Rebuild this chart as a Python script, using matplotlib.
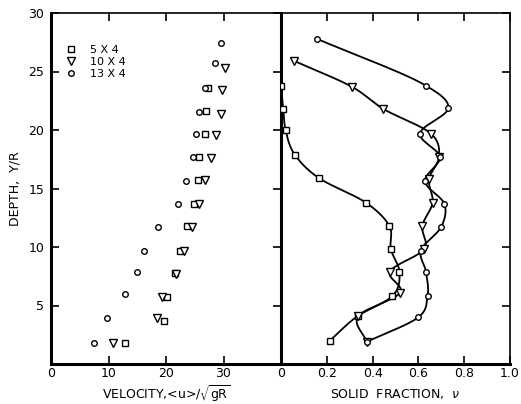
import numpy as np
import matplotlib
matplotlib.use("Agg")
import matplotlib.pyplot as plt

# ---------------- data ----------------
series_labels = ["5 X 4", "10 X 4", "13 X 4"]

# Left panel: velocity <u>/sqrt(gR) vs depth Y/R
vel_sq_depth = [23.6, 21.6, 19.7, 17.7, 15.7, 13.7, 11.8, 9.7, 7.8, 5.7, 3.7, 1.8]
vel_sq = [27.3, 26.9, 26.7, 25.7, 25.6, 24.9, 23.7, 22.4, 21.6, 20.1, 19.7, 12.9]

vel_tr_depth = [25.3, 23.4, 21.4, 19.6, 17.6, 15.7, 13.7, 11.7, 9.7, 7.7, 5.7, 3.9, 1.8]
vel_tr = [30.2, 29.7, 29.5, 28.7, 27.8, 26.8, 25.7, 24.5, 23.2, 21.7, 19.3, 18.4, 10.8]

vel_ci_depth = [27.4, 25.7, 23.6, 21.5, 19.7, 17.7, 15.6, 13.7, 11.7, 9.7, 7.9, 6.0, 3.9, 1.8]
vel_ci = [29.5, 28.5, 26.7, 25.7, 25.3, 24.7, 23.5, 22.0, 18.6, 16.1, 15.0, 12.9, 9.8, 7.4]

# Right panel: solid fraction nu vs depth Y/R
sf_sq_depth = [23.8, 21.8, 20.0, 17.9, 15.9, 13.8, 11.8, 9.8, 7.9, 5.8, 4.1, 2.0]
sf_sq = [0.0, 0.01, 0.02, 0.06, 0.165, 0.37, 0.473, 0.48, 0.517, 0.486, 0.335, 0.214]

sf_tr_depth = [25.9, 23.7, 21.8, 19.7, 17.7, 15.8, 13.8, 11.8, 9.8, 7.9, 6.1, 4.1, 1.9]
sf_tr = [0.058, 0.309, 0.447, 0.654, 0.69, 0.646, 0.662, 0.617, 0.624, 0.476, 0.52, 0.338, 0.374]

sf_ci_depth = [27.8, 23.8, 21.9, 19.7, 17.7, 15.6, 13.7, 11.7, 9.7, 7.9, 5.8, 4.0, 1.9]
sf_ci = [0.156, 0.632, 0.731, 0.607, 0.693, 0.629, 0.713, 0.699, 0.611, 0.633, 0.640, 0.600, 0.374]

left_xticks = [0, 10, 20, 30]
right_xticks = [0, 0.2, 0.4, 0.6, 0.8, 1.0]
right_xticklabels = ["0", "0.2", "0.4", "0.6", "0.8", "1.0"]
yticks = [5, 10, 15, 20, 25, 30]


def catmull_rom(x, y, n=30, alpha=0.5):
    """Centripetal Catmull-Rom smoothing through the given points (display only)."""
    P = np.column_stack([x, y]).astype(float)
    P = np.vstack([2 * P[0] - P[1], P, 2 * P[-1] - P[-2]])
    out = []
    for i in range(1, len(P) - 2):
        p0, p1, p2, p3 = P[i - 1], P[i], P[i + 1], P[i + 2]
        t0 = 0.0
        t1 = t0 + np.linalg.norm(p1 - p0) ** alpha + 1e-9
        t2 = t1 + np.linalg.norm(p2 - p1) ** alpha + 1e-9
        t3 = t2 + np.linalg.norm(p3 - p2) ** alpha + 1e-9
        t = np.linspace(t1, t2, n)[:, None]
        A1 = (t1 - t) / (t1 - t0) * p0 + (t - t0) / (t1 - t0) * p1
        A2 = (t2 - t) / (t2 - t1) * p1 + (t - t1) / (t2 - t1) * p2
        A3 = (t3 - t) / (t3 - t2) * p2 + (t - t2) / (t3 - t2) * p3
        B1 = (t2 - t) / (t2 - t0) * A1 + (t - t0) / (t2 - t0) * A2
        B2 = (t3 - t) / (t3 - t1) * A2 + (t - t1) / (t3 - t1) * A3
        C = (t2 - t) / (t2 - t1) * B1 + (t - t1) / (t2 - t1) * B2
        out.append(C)
    C = np.vstack(out)
    return C[:, 0], C[:, 1]


fig = plt.figure(figsize=(5.21, 4.04), dpi=100)
L, M, R = 51 / 521, 281 / 521, 510 / 521
B, T = 1 - 364 / 404, 1 - 13 / 404
ax1 = fig.add_axes([L, B, M - L, T - B])
ax2 = fig.add_axes([M, B, R - M, T - B])

msq = dict(marker="s", ms=4.0, mfc="white", mec="black", mew=1.0, ls="none")
mtr = dict(marker="v", ms=5.8, mfc="white", mec="black", mew=1.0, ls="none")
mci = dict(marker="o", ms=4.0, mfc="white", mec="black", mew=1.0, ls="none")

ax1.plot(vel_sq, vel_sq_depth, label=series_labels[0], **msq)
ax1.plot(vel_tr, vel_tr_depth, label=series_labels[1], **mtr)
ax1.plot(vel_ci, vel_ci_depth, label=series_labels[2], **mci)

for xs, ys, st in [(sf_sq, sf_sq_depth, msq), (sf_tr, sf_tr_depth, mtr), (sf_ci, sf_ci_depth, mci)]:
    cx, cy = catmull_rom(xs, ys)
    ax2.plot(cx, cy, color="black", lw=1.3, zorder=2)
    ax2.plot(xs, ys, zorder=3, **st)

ax1.set_xlim(0, 40)
ax1.set_ylim(0, 30)
ax2.set_xlim(0, 1.0)
ax2.set_ylim(0, 30)

font = dict(family="DejaVu Sans", size=9)

ax1.set_xticks(left_xticks)
ax1.set_xticklabels([str(v) for v in left_xticks], **font)
ax1.set_yticks(yticks)
ax1.set_yticklabels([str(v) for v in yticks], **font)
ax1.tick_params(axis="both", direction="in", length=6, width=1.2, top=True, right=True)
ax1.tick_params(axis="y", pad=5)
ax1.tick_params(axis="x", pad=2.5)

ax2.set_xticks(right_xticks)
ax2.set_xticklabels(right_xticklabels, **font)
ax2.set_yticks(yticks)
ax2.tick_params(axis="y", left=False, right=True, labelleft=False, direction="in", length=6, width=1.2)
ax2.tick_params(axis="x", direction="in", length=6, width=1.2, top=True, pad=2.5)

for ax in (ax1, ax2):
    for side in ("top", "right"):
        ax.spines[side].set_linewidth(1.2)
    ax.spines["bottom"].set_linewidth(2.2)
    ax.spines["left"].set_linewidth(2.2)
ax1.spines["right"].set_visible(False)

ax1.set_ylabel("DEPTH,  Y/R", fontsize=9, labelpad=5)
ax1.set_xlabel(r"VELOCITY,<u>/$\sqrt{\mathrm{gR}}$", fontsize=9, labelpad=2)
ax2.set_xlabel(r"SOLID  FRACTION,  $\nu$", fontsize=9, labelpad=5)

leg = ax1.legend(loc="upper left", bbox_to_anchor=(0.03, 0.93), frameon=False,
                 fontsize=8, handletextpad=1.2, labelspacing=0.15, borderpad=0.2,
                 handlelength=1.0)

fig.savefig("out.png", dpi=100)
